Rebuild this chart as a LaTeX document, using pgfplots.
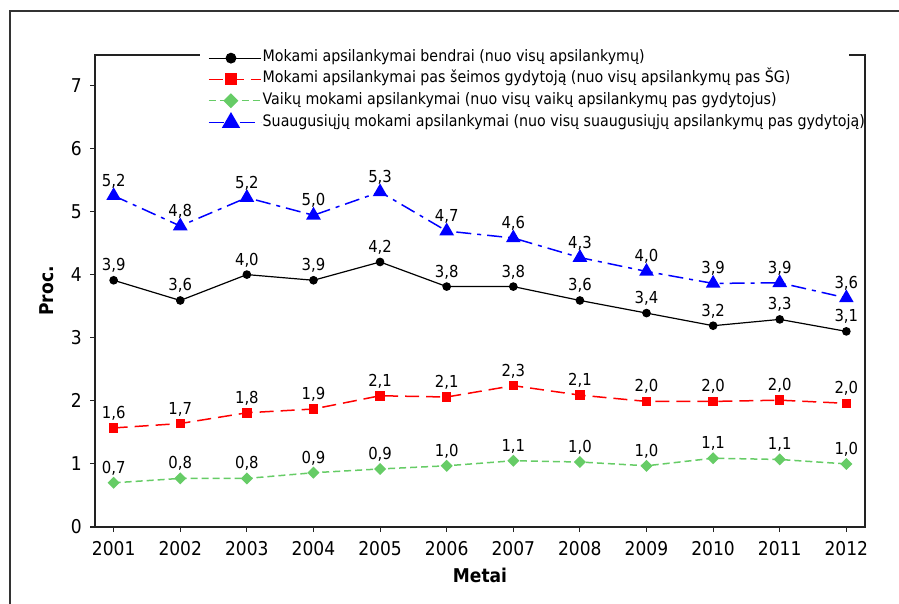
\documentclass[border=0pt]{standalone}
\usepackage{fontspec}
\setmainfont{DejaVu Sans Condensed}
\usepackage{pgfplots}
\usepackage{pgfplotstable}
\pgfplotsset{compat=1.18}
\definecolor{cgreen}{RGB}{102,204,102}
\definecolor{axgray}{RGB}{34,34,34}

% year, value, label
\pgfplotstableread{
x y l
2001 3.91 3,9
2002 3.59 3,6
2003 4.00 4,0
2004 3.91 3,9
2005 4.20 4,2
2006 3.81 3,8
2007 3.81 3,8
2008 3.59 3,6
2009 3.39 3,4
2010 3.19 3,2
2011 3.29 3,3
2012 3.10 3,1
}\bendrai
\pgfplotstableread{
x y l
2001 1.57 1,6
2002 1.64 1,7
2003 1.81 1,8
2004 1.87 1,9
2005 2.08 2,1
2006 2.06 2,1
2007 2.24 2,3
2008 2.09 2,1
2009 1.99 2,0
2010 1.99 2,0
2011 2.01 2,0
2012 1.96 2,0
}\seimos
\pgfplotstableread{
x y l
2001 0.70 0,7
2002 0.77 0,8
2003 0.77 0,8
2004 0.86 0,9
2005 0.92 0,9
2006 0.97 1,0
2007 1.05 1,1
2008 1.03 1,0
2009 0.97 1,0
2010 1.09 1,1
2011 1.07 1,1
2012 1.00 1,0
}\vaiku
\pgfplotstableread{
x y l
2001 5.25 5,2
2002 4.77 4,8
2003 5.22 5,2
2004 4.94 5,0
2005 5.31 5,3
2006 4.69 4,7
2007 4.58 4,6
2008 4.27 4,3
2009 4.05 4,0
2010 3.86 3,9
2011 3.87 3,9
2012 3.63 3,6
}\suaugusiuju

\begin{document}
\begin{tikzpicture}[x=1pt,y=1pt]
\useasboundingbox (-95,-76) rectangle (804,527);
\begin{scope}
\clip (-95,-76) rectangle (804,527);
\draw[line width=1.8pt, black!80] (-85,516) rectangle (830,-100);
\end{scope}
\begin{axis}[
  name=ax,
  at={(0,0)}, anchor=south west,
  scale only axis, width=770pt, height=472pt,
  xmin=2000.72, xmax=2012.28, ymin=0, ymax=7.48,
  axis line style={axgray, line width=1.3pt},
  xtick={2001,...,2012}, ytick={0,1,...,7},
  xtick pos=left, ytick pos=left,
  tick align=outside, major tick length=5pt,
  tick style={axgray, line width=1.1pt},
  /pgf/number format/assume math mode=true,
  xticklabel={\pgfmathprintnumber[1000 sep={}]{\tick}},
  ticklabel style={font=\fontsize{19}{22}\selectfont},
  xticklabel style={anchor=north, inner sep=0pt, yshift=-9pt},
  yticklabel style={anchor=east, inner sep=0pt, xshift=-8pt},
  xlabel={\textbf{Metai}},
  ylabel={\textbf{Proc.}},
  label style={font=\fontsize{19}{22}\selectfont},
  xlabel style={at={(axis description cs:0.5,-0.1017)}, anchor=center},
  ylabel style={at={(axis description cs:-0.0623,0.5)}, anchor=center},
  nodes near coords,
  point meta=explicit symbolic,
  every node near coord/.append style={anchor=base, yshift=9.5pt, inner sep=0pt,
    text=black, font=\fontsize{16.5}{19}\selectfont},
  legend cell align=left,
  legend style={at={(rel axis cs:0.1364,1.016)}, anchor=north west,
    draw=none, fill=white, inner xsep=8pt, inner ysep=2pt,
    font=\fontsize{15.8}{18}\selectfont, row sep=4.3pt,
    nodes={text height=11pt, text depth=4pt, inner sep=1pt}},
  legend image code/.code={\draw[mark repeat=2, mark phase=2, every mark/.append style={scale=1.3}, #1]
    plot coordinates {(0pt,0pt) (22pt,0pt) (44pt,0pt)};
    \path (0pt,0pt) -- (52pt,0pt);},
]
\addplot[black, line width=1.2pt, mark=*, mark size=3.7pt, mark options={solid}]
  table[x=x, y=y, meta=l] {\bendrai};
\addlegendentry{Mokami apsilankymai bendrai (nuo visų apsilankymų)}
\addplot[red, line width=1.5pt, dash pattern=on 14pt off 7pt, mark=square*, mark size=4pt, mark options={solid}]
  table[x=x, y=y, meta=l] {\seimos};
\addlegendentry{Mokami apsilankymai pas šeimos gydytoją (nuo visų apsilankymų pas ŠG)}
\addplot[cgreen, line width=1.5pt, dash pattern=on 7pt off 4pt, mark=square*, mark size=3.5pt, mark options={solid, rotate=45}]
  table[x=x, y=y, meta=l] {\vaiku};
\addlegendentry{Vaikų mokami apsilankymai (nuo visų vaikų apsilankymų pas gydytojus)}
\addplot[blue, line width=1.5pt, dash pattern=on 15pt off 6pt on 4pt off 6pt, mark=triangle*, mark size=7pt, mark options={solid}]
  table[x=x, y=y, meta=l] {\suaugusiuju};
\addlegendentry{Suaugusiųjų mokami apsilankymai (nuo visų suaugusiųjų apsilankymų pas gydytoją)}
\end{axis}
% the legend box hides the right axis line; draw it again
\draw[axgray, line width=1.3pt, line cap=rect] ([xshift=-15pt]ax.north east) -- (ax.north east) -- (ax.south east);
\end{tikzpicture}
\end{document}
